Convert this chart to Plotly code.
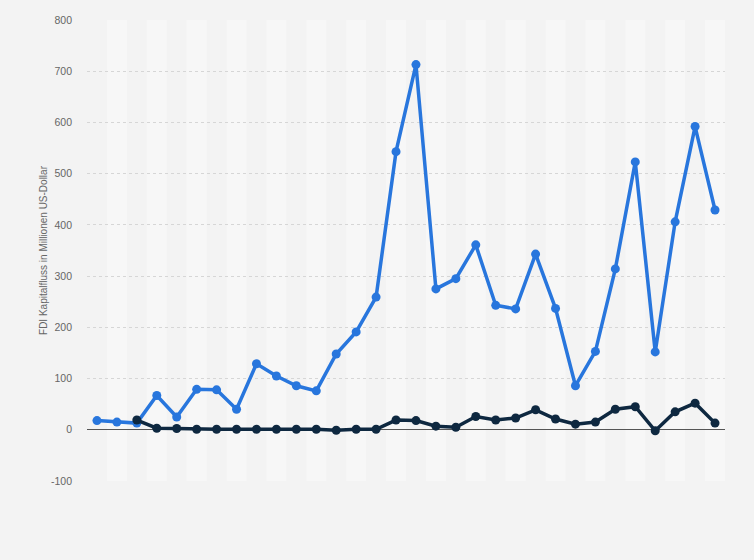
import plotly.graph_objects as go

years = [str(y) for y in range(1990, 2022)]

series_a = [18, 15, 13, 67, 25, 79, 78, 40, 129, 105, 86, 76, 148, 191, 259, 543,
            713, 275, 295, 361, 243, 236, 343, 237, 86, 153, 314, 523, 152, 406, 592, 429]
series_b = [None, None, 19, 3, 2.5, 1, 1, 1, 1, 1, 1, 1, -1, 1, 1, 19,
            18, 7, 5, 26, 19, 23, 39, 21, 11, 15, 40, 45, -2, 35, 52, 13]

y_ticks = [-100, 0, 100, 200, 300, 400, 500, 600, 700, 800]
y_tick_labels = ["-100", "0", "100", "200", "300", "400", "500", "600", "700", "800"]

fig = go.Figure()
fig.add_trace(go.Scatter(
    x=years, y=series_a, mode="lines+markers",
    line=dict(color="#2876dd", width=3.5),
    marker=dict(color="#2876dd", size=9),
    showlegend=False, hoverinfo="x+y"))
fig.add_trace(go.Scatter(
    x=years, y=series_b, mode="lines+markers",
    line=dict(color="#0e2840", width=3.5),
    marker=dict(color="#0e2840", size=9),
    showlegend=False, hoverinfo="x+y", connectgaps=False))

shapes = []
for i in range(1, len(years), 2):
    shapes.append(dict(type="rect", xref="x", yref="paper",
                       x0=i - 0.5, x1=i + 0.5, y0=0, y1=1,
                       fillcolor="#f7f7f7", line=dict(width=0), layer="below"))
fig.update_layout(shapes=shapes)

fig.update_layout(
    width=754, height=560,
    margin=dict(l=87, r=29, t=20, b=79),
    paper_bgcolor="#f3f3f3", plot_bgcolor="#f3f3f3",
    font=dict(family="Liberation Sans, Arial, sans-serif", size=11, color="#666666"),
    xaxis=dict(type="category", range=[-0.5, len(years) - 0.5],
               showticklabels=False, showgrid=False, zeroline=False,
               showline=False, ticks=""),
    yaxis=dict(range=[-100, 800], tickvals=y_ticks, ticktext=y_tick_labels,
               showgrid=True, gridcolor="#d6d6d6", griddash="dot", gridwidth=1,
               zeroline=True, zerolinecolor="#555555", zerolinewidth=1,
               ticks="", ticklabelstandoff=14,
               tickfont=dict(size=10.5, color="#666666"),
               title=dict(text="FDI Kapitalfluss in Millionen US-Dollar",
                          font=dict(size=10, color="#666666"), standoff=1)),
)

fig.write_html("out.html", config={"displayModeBar": False},
               post_script="document.body.style.margin='0';document.body.style.background='#f3f3f3';")
